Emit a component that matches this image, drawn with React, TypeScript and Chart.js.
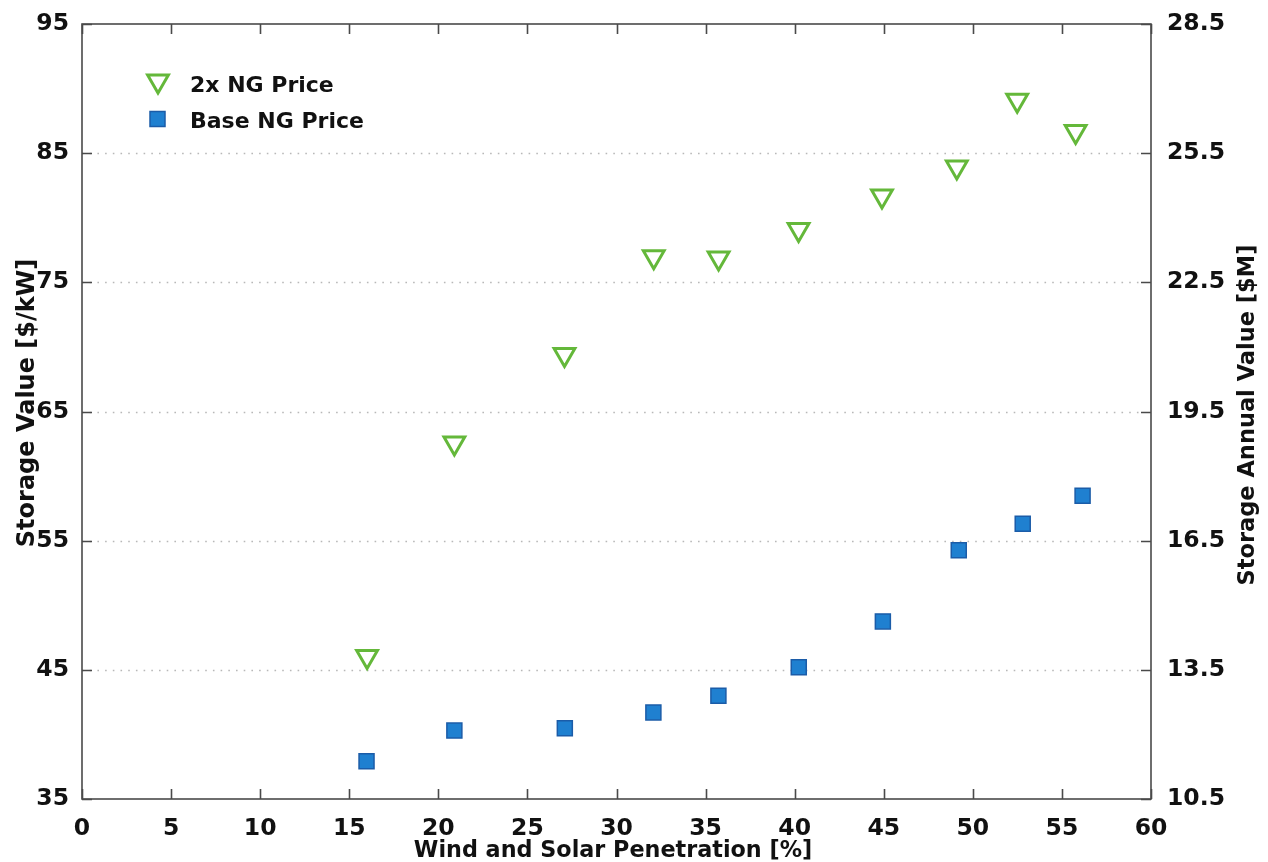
import React, { useEffect, useRef } from 'react';
import { Chart, registerables } from 'chart.js';

Chart.register(...registerables);

// ---- Data ----
const seriesLabels = ['2x NG Price', 'Base NG Price'];
const ng2xX = [16.0, 20.9, 27.08, 32.09, 35.73, 40.22, 44.9, 49.1, 52.49, 55.77];
const ng2xY = [46.03, 62.56, 69.41, 76.98, 76.88, 79.09, 81.68, 83.93, 89.09, 86.68];
const ngBaseX = [15.97, 20.9, 27.1, 32.07, 35.72, 40.23, 44.95, 49.21, 52.8, 56.16];
const ngBaseY = [37.92, 40.3, 40.47, 41.7, 43.0, 45.2, 48.75, 54.26, 56.31, 58.47];

const xTicks = [0, 5, 10, 15, 20, 25, 30, 35, 40, 45, 50, 55, 60];
const leftTicks = [35, 45, 55, 65, 75, 85, 95];
const rightTicks = [10.5, 13.5, 16.5, 19.5, 22.5, 25.5, 28.5];

const xTitle = 'Wind and Solar Penetration [%]';
const leftTitle = 'Storage Value [$/kW]';
const rightTitle = 'Storage Annual Value [$M]';

const GREEN = '#64b83a';
const BLUE_FILL = '#1f80d0';
const BLUE_EDGE = '#1b5ca8';
const TEXT = '#111111';

const tickFont = { family: 'DejaVu Sans', weight: 'bold' as const, size: 23.5 };
const xTitleFont = 'bold 22.3px "DejaVu Sans"';
const leftTitleFont = 'bold 24px "DejaVu Sans"';
const rightTitleFont = 'bold 22.5px "DejaVu Sans"';
const legendFont = 'bold 22px "DejaVu Sans"';

const decorPlugin = {
  id: 'decor',
  beforeDatasetsDraw(chart: any) {
    const { ctx, chartArea: a, scales } = chart;
    const x = scales.x;
    const y = scales.y;
    ctx.save();
    // dotted horizontal grid
    ctx.strokeStyle = '#b8b8b8';
    ctx.lineWidth = 1.6;
    ctx.setLineDash([1.6, 6.1]);
    leftTicks.forEach((v, i) => {
      if (i === 0 || i === leftTicks.length - 1) return;
      const py = Math.round(y.getPixelForValue(v)) + 0.5;
      ctx.beginPath();
      ctx.moveTo(a.left, py);
      ctx.lineTo(a.right - 10, py);
      ctx.stroke();
    });
    ctx.setLineDash([]);
    // frame
    ctx.strokeStyle = '#4a4a4a';
    ctx.lineWidth = 1.6;
    ctx.strokeRect(a.left, a.top, a.right - a.left, a.bottom - a.top);
    // inward ticks
    const tl = 10;
    ctx.beginPath();
    xTicks.forEach((v) => {
      const px = Math.round(x.getPixelForValue(v)) + 0.5;
      ctx.moveTo(px, a.bottom);
      ctx.lineTo(px, a.bottom - tl);
      ctx.moveTo(px, a.top);
      ctx.lineTo(px, a.top + tl);
    });
    leftTicks.forEach((v) => {
      const py = Math.round(y.getPixelForValue(v)) + 0.5;
      ctx.moveTo(a.left, py);
      ctx.lineTo(a.left + tl, py);
      ctx.moveTo(a.right, py);
      ctx.lineTo(a.right - tl, py);
    });
    ctx.stroke();
    ctx.restore();
  },
  afterDraw(chart: any) {
    const { ctx } = chart;
    ctx.save();
    ctx.fillStyle = TEXT;
    ctx.textAlign = 'center';
    ctx.textBaseline = 'alphabetic';
    // x title
    ctx.font = xTitleFont;
    ctx.fillText(xTitle, 613, 857);
    // left title
    ctx.font = leftTitleFont;
    ctx.save();
    ctx.translate(34, 403);
    ctx.rotate(-Math.PI / 2);
    ctx.fillText(leftTitle, 0, 0);
    ctx.restore();
    // right title
    ctx.font = rightTitleFont;
    ctx.save();
    ctx.translate(1254, 415);
    ctx.rotate(-Math.PI / 2);
    ctx.fillText(rightTitle, 0, 0);
    ctx.restore();
    // legend
    ctx.font = legendFont;
    ctx.textAlign = 'left';
    const r = 12;
    const tx = 158, ty = 81;
    ctx.beginPath();
    for (let k = 0; k < 3; k++) {
      const ang = Math.PI + (k * 2 * Math.PI) / 3;
      const px = tx + Math.sin(ang) * r;
      const py = ty - Math.cos(ang) * r;
      if (k === 0) ctx.moveTo(px, py); else ctx.lineTo(px, py);
    }
    ctx.closePath();
    ctx.strokeStyle = GREEN;
    ctx.lineWidth = 3;
    ctx.stroke();
    ctx.fillStyle = TEXT;
    ctx.fillText(seriesLabels[0], 190, 92);
    const s = 15;
    ctx.fillStyle = BLUE_FILL;
    ctx.strokeStyle = BLUE_EDGE;
    ctx.lineWidth = 1.5;
    ctx.beginPath();
    ctx.rect(157.5 - s / 2, 119 - s / 2, s, s);
    ctx.fill();
    ctx.stroke();
    ctx.fillStyle = TEXT;
    ctx.fillText(seriesLabels[1], 190, 128);
    ctx.restore();
  },
};

export default function App() {
  const ref = useRef<HTMLCanvasElement | null>(null);
  useEffect(() => {
    if (!ref.current) return;
    const chart = new Chart(ref.current, {
      type: 'scatter',
      data: {
        datasets: [
          {
            label: seriesLabels[0],
            data: ng2xX.map((v, i) => ({ x: v, y: ng2xY[i] })),
            pointStyle: 'triangle',
            rotation: 180,
            pointRadius: 12,
            pointHoverRadius: 12,
            borderWidth: 3,
            borderColor: GREEN,
            backgroundColor: 'rgba(0,0,0,0)',
            showLine: false,
            yAxisID: 'y',
          },
          {
            label: seriesLabels[1],
            data: ngBaseX.map((v, i) => ({ x: v, y: ngBaseY[i] })),
            pointStyle: 'rect',
            pointRadius: 10.6,
            pointHoverRadius: 10.6,
            borderWidth: 1.5,
            borderColor: BLUE_EDGE,
            backgroundColor: BLUE_FILL,
            showLine: false,
            yAxisID: 'y',
          },
        ],
      },
      options: {
        animation: false,
        responsive: false,
        devicePixelRatio: 1,
        layout: { padding: { top: 24, left: 0, right: 0, bottom: 0 } },
        plugins: { legend: { display: false }, tooltip: { enabled: false }, title: { display: false } },
        scales: {
          x: {
            type: 'linear',
            min: 0,
            max: 60,
            grid: { display: false },
            border: { display: false },
            afterBuildTicks: (s: any) => { s.ticks = xTicks.map((v) => ({ value: v })); },
            afterFit: (s: any) => { s.height = 63; },
            ticks: { font: tickFont, color: TEXT, padding: 8, maxRotation: 0, autoSkip: false },
          },
          y: {
            type: 'linear',
            position: 'left',
            min: 35,
            max: 95,
            grid: { display: false },
            border: { display: false },
            afterBuildTicks: (s: any) => { s.ticks = leftTicks.map((v) => ({ value: v })); },
            afterFit: (s: any) => { s.width = 82; },
            ticks: { font: tickFont, color: TEXT, padding: 5, callback: (v: any) => String(v) },
          },
          y2: {
            type: 'linear',
            position: 'right',
            min: 10.5,
            max: 28.5,
            grid: { display: false },
            border: { display: false },
            afterBuildTicks: (s: any) => { s.ticks = rightTicks.map((v) => ({ value: v })); },
            afterFit: (s: any) => { s.width = 117; },
            ticks: { font: tickFont, color: TEXT, padding: 8, callback: (v: any) => Number(v).toFixed(1) },
          },
        },
      },
      plugins: [decorPlugin],
    } as any);
    return () => chart.destroy();
  }, []);
  return (
    <div style={{ position: 'absolute', left: 0, top: 0, width: 1268, height: 862, background: '#fff' }}>
      <canvas ref={ref} width={1268} height={862} />
    </div>
  );
}
